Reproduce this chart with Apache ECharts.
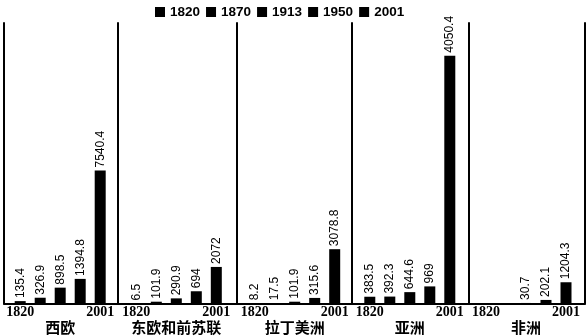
<!DOCTYPE html>
<html>
<head>
<meta charset="utf-8">
<script src="https://cdn.jsdelivr.net/npm/echarts@6/dist/echarts.min.js"></script>
<style>
  html, body { margin: 0; padding: 0; background: #fff; }
  #chart { width: 588px; height: 336px; }
</style>
</head>
<body>
<div id="chart"></div>
<script>
// ---- data ----
const years = ['1820', '1870', '1913', '1950', '2001'];
const regions = ['西欧', '东欧和前苏联', '拉丁美洲', '亚洲', '非洲'];
const westEurope     = [135.4, 326.9, 898.5, 1394.8, 7540.4];
const eastEuropeUSSR = [6.5, 101.9, 290.9, 694, 2072];
const latinAmerica   = [8.2, 17.5, 101.9, 315.6, 3078.8];
const asia           = [383.5, 392.3, 644.6, 969, 14050.4];
const africa         = [null, null, 30.7, 202.1, 1204.3];
// printed label text where it differs from the drawn value
const asiaLabels     = ['383.5', '392.3', '644.6', '969', '4050.4'];

// ---- layout ----
const panelValues = [westEurope, eastEuropeUSSR, latinAmerica, asia, africa];
const panelLabels = [
  westEurope.map(String), eastEuropeUSSR.map(String), latinAmerica.map(String),
  asiaLabels, africa.map(v => v == null ? '' : String(v))
];
const dividers = [4, 118, 236.5, 352, 469, 585];
const gridLefts = [10.2, 126.3, 244.7, 359.8, 476];
const gridW = 100, TOP = 23, BOTTOM = 32.5, YMAX = 15900;

const grids = [], xAxes = [], yAxes = [], series = [];
gridLefts.forEach((gl, g) => {
  grids.push({ left: gl, width: gridW, top: TOP, bottom: BOTTOM, outerBoundsMode: 'none', containLabel: false });
  xAxes.push({
    type: 'category', gridIndex: g, data: years,
    axisLine: { show: false }, axisTick: { show: false },
    axisLabel: {
      interval: (i) => i === 0 || i === 4,
      margin: 2, color: '#000', fontSize: 14, fontWeight: 'bold',
      fontFamily: 'Liberation Serif'
    },
    name: regions[g], nameLocation: 'middle', nameGap: 16, nameMoveOverlap: false,
    nameTextStyle: { color: '#000', fontSize: 15, fontWeight: 'bold', fontFamily: 'Noto Sans CJK SC' }
  });
  yAxes.push({
    type: 'value', gridIndex: g, min: 0, max: YMAX, position: 'left',
    offset: gl - dividers[g],
    axisLine: { show: true, lineStyle: { color: '#000', width: 2 } },
    axisTick: { show: false }, axisLabel: { show: false }, splitLine: { show: false }
  });
  years.forEach((y, k) => {
    series.push({
      type: 'bar', name: y, xAxisIndex: g, yAxisIndex: g,
      stack: 'p' + g, barWidth: 11,
      itemStyle: { color: '#000' },
      data: years.map((_, j) => (j === k && panelValues[g][j] != null) ? panelValues[g][j] : '-'),
      label: {
        show: true, position: 'top', rotate: 90, align: 'left', verticalAlign: 'middle',
        distance: 3, color: '#000', fontSize: 12, fontFamily: 'Liberation Sans',
        formatter: (p) => panelLabels[g][p.dataIndex]
      },
      emphasis: { disabled: true }
    });
  });
});
// right edge divider on the last panel
yAxes.push({
  type: 'value', gridIndex: 4, min: 0, max: YMAX, position: 'right',
  offset: dividers[5] - (gridLefts[4] + gridW),
  axisLine: { show: true, lineStyle: { color: '#000', width: 2 } },
  axisTick: { show: false }, axisLabel: { show: false }, splitLine: { show: false }
});
// frame grid: continuous baseline
grids.push({ left: dividers[0], right: 588 - dividers[5], top: TOP, bottom: BOTTOM, outerBoundsMode: 'none', containLabel: false });
xAxes.push({
  type: 'value', gridIndex: 5, min: 0, max: 1,
  axisLine: { show: true, onZero: false, lineStyle: { color: '#000', width: 2 } },
  axisTick: { show: false }, axisLabel: { show: false }, splitLine: { show: false }
});
yAxes.push({ type: 'value', gridIndex: 5, min: 0, max: 1, show: false });

const chart = echarts.init(document.getElementById('chart'), null, { renderer: 'canvas' });
chart.setOption({
  animation: false,
  backgroundColor: '#fff',
  legend: {
    data: years, top: 0, left: 150, itemWidth: 10, itemHeight: 10, itemGap: 6,
    icon: 'rect',
    textStyle: { color: '#000', fontSize: 13.5, fontWeight: 'bold', fontFamily: 'Liberation Sans', lineHeight: 14 },
    itemStyle: { color: '#000' }
  },
  grid: grids, xAxis: xAxes, yAxis: yAxes, series: series
});
</script>
</body>
</html>
